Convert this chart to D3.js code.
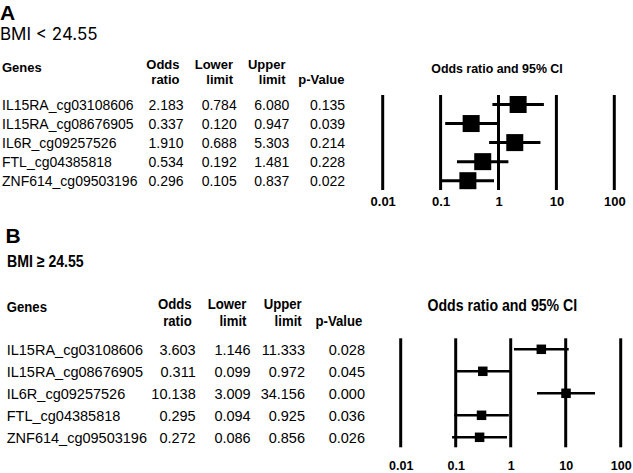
<!DOCTYPE html>
<html>
<head>
<meta charset="utf-8">
<script src="https://cdn.jsdelivr.net/npm/d3@7"></script>
<style>
  html, body { margin: 0; padding: 0; background: #fff; }
  svg { display: block; font-family: "Liberation Sans", Arial, sans-serif; }
</style>
</head>
<body>
<svg id="chart" width="633" height="473"></svg>
<script>
// ---------- data ----------
const genes = ["IL15RA_cg03108606", "IL15RA_cg08676905", "IL6R_cg09257526", "FTL_cg04385818", "ZNF614_cg09503196"];

const orA    = [2.183, 0.337, 1.910, 0.534, 0.296];
const lowerA = [0.784, 0.120, 0.688, 0.192, 0.105];
const upperA = [6.080, 0.947, 5.303, 1.481, 0.837];
const pA     = [0.135, 0.039, 0.214, 0.228, 0.022];

const orB    = [3.603, 0.311, 10.138, 0.295, 0.272];
const lowerB = [1.146, 0.099, 3.009, 0.094, 0.086];
const upperB = [11.333, 0.972, 34.156, 0.925, 0.856];
const pB     = [0.028, 0.045, 0.000, 0.036, 0.026];

const tickValues = [0.01, 0.1, 1, 10, 100];
const tickLabels = ["0.01", "0.1", "1", "10", "100"];

const headerCols = [["Odds", "ratio"], ["Lower", "limit"], ["Upper", "limit"], ["", "p-Value"]];
const panelLetters = ["A", "B"];
const panelSubtitles = ["BMI < 24.55", "BMI \u2265 24.55"];
const plotTitle = "Odds ratio and 95% CI";

// ---------- drawing ----------
const svg = d3.select("#chart");

function sText(g, x, y, txt, opts) {
  const sx = opts.sx || 1;
  const t = g.append("text")
    .attr("transform", `translate(${x},${y}) scale(${sx},1)`)
    .attr("font-size", opts.size)
    .attr("font-weight", opts.bold ? "bold" : "normal")
    .attr("text-anchor", opts.anchor || "start")
    .attr("fill", "#000")
    .text(txt);
  if (opts.family) t.attr("font-family", opts.family);
  return t;
}

function drawPanel(cfg) {
  const g = svg.append("g");
  const rows = genes.map((gname, i) => ({
    gene: gname, or: cfg.or[i], lo: cfg.lower[i], hi: cfg.upper[i], p: cfg.p[i]
  }));

  const x = d3.scaleLog().domain([0.01, 100]).range(cfg.xRange);
  const y = d3.scalePoint().domain(genes).range(cfg.yRange);

  // letter & subtitle
  sText(g, cfg.letterX, cfg.letterY, cfg.letter, {size: cfg.letterSize, bold: true});
  sText(g, cfg.subX, cfg.subY, cfg.subtitle, {size: cfg.subSize, bold: cfg.subBold, sx: cfg.subSx, family: cfg.subFamily});

  // table headers
  sText(g, cfg.geneX, cfg.genesHeaderY, "Genes", {size: cfg.headSize, bold: true, sx: cfg.headSx});
  headerCols.forEach((h, j) => {
    if (h[0]) sText(g, cfg.headX[j], cfg.head1Y, h[0], {size: cfg.headSize, bold: true, anchor: "end", sx: cfg.headSx});
    sText(g, cfg.headX[j], cfg.head2Y, h[1], {size: cfg.headSize, bold: true, anchor: "end", sx: cfg.headSx});
  });

  // table rows
  const fmt = d3.format(".3f");
  rows.forEach(r => {
    const yy = y(r.gene) + cfg.textDy;
    sText(g, cfg.geneX, yy, r.gene, {size: cfg.rowSize});
    [r.or, r.lo, r.hi, r.p].forEach((v, j) => {
      sText(g, cfg.colX[j], yy, fmt(v), {size: cfg.rowSize, anchor: "end"});
    });
  });

  // plot title
  sText(g, cfg.titleX, cfg.titleY, plotTitle, {size: cfg.titleSize, bold: true, anchor: "middle", sx: cfg.titleSx});

  // vertical reference lines
  g.selectAll("line.ref").data(tickValues).join("line")
    .attr("class", "ref")
    .attr("x1", d => x(d)).attr("x2", d => x(d))
    .attr("y1", cfg.lineTop).attr("y2", cfg.lineBottom)
    .attr("stroke", "#000").attr("stroke-width", cfg.refWidth);

  // axis labels
  const axis = d3.axisBottom(x).tickValues(tickValues)
    .tickFormat((d, i) => tickLabels[i]).tickSize(0).tickPadding(0);
  const ax = g.append("g").attr("transform", `translate(0,${cfg.tickY})`).call(axis);
  ax.select(".domain").remove();
  ax.selectAll("text")
    .attr("dy", 0).attr("y", 0)
    .attr("font-size", cfg.tickSize).attr("font-weight", "bold")
    .attr("font-family", "'Liberation Sans', Arial, sans-serif")
    .attr("fill", "#000");

  // whiskers
  g.selectAll("line.ci").data(rows).join("line")
    .attr("class", "ci")
    .attr("x1", d => x(d.lo)).attr("x2", d => x(d.hi))
    .attr("y1", d => y(d.gene)).attr("y2", d => y(d.gene))
    .attr("stroke", "#000").attr("stroke-width", cfg.ciWidth);

  // squares
  g.selectAll("rect.pt").data(rows).join("rect")
    .attr("class", "pt")
    .attr("x", d => x(d.or) - cfg.sq / 2).attr("y", d => y(d.gene) - cfg.sq / 2)
    .attr("width", cfg.sq).attr("height", cfg.sq)
    .attr("fill", "#000");
}

drawPanel({
  letter: panelLetters[0], subtitle: panelSubtitles[0],
  or: orA, lower: lowerA, upper: upperA, p: pA,
  letterX: 0, letterY: 19.5, letterSize: 21,
  subX: 0, subY: 40, subSize: 17, subBold: false, subSx: 1, subFamily: "Inter, 'Liberation Sans', sans-serif",
  geneX: 2, genesHeaderY: 71.5, headSize: 13, headSx: 1,
  headX: [179.5, 233, 285.5, 344.5], head1Y: 69, head2Y: 84,
  colX: [183.5, 236.7, 289.3, 345], rowSize: 14, textDy: 5.3,
  titleX: 497, titleY: 72.5, titleSize: 12.4, titleSx: 1,
  xRange: [382.7, 614.3], yRange: [104.5, 180.7],
  lineTop: 95, lineBottom: 190, refWidth: 3,
  tickY: 205.5, tickSize: 13,
  ciWidth: 3, sq: 17
});

drawPanel({
  letter: panelLetters[1], subtitle: panelSubtitles[1],
  or: orB, lower: lowerB, upper: upperB, p: pB,
  letterX: 5.5, letterY: 243.3, letterSize: 21,
  subX: 7, subY: 266.7, subSize: 17, subBold: true, subSx: 0.83,
  geneX: 6.7, genesHeaderY: 311.5, headSize: 15.5, headSx: 0.85,
  headX: [191.7, 246.5, 301.7, 362.3], head1Y: 309.3, head2Y: 326,
  colX: [195.7, 250.7, 305, 365], rowSize: 14.5, textDy: 5.5,
  titleX: 502.3, titleY: 310.5, titleSize: 17, titleSx: 0.83,
  xRange: [400.7, 620.7], yRange: [349.3, 437.3],
  lineTop: 338.3, lineBottom: 447.3, refWidth: 3,
  tickY: 470, tickSize: 12.5,
  ciWidth: 2.5, sq: 9.5
});
</script>
</body>
</html>
